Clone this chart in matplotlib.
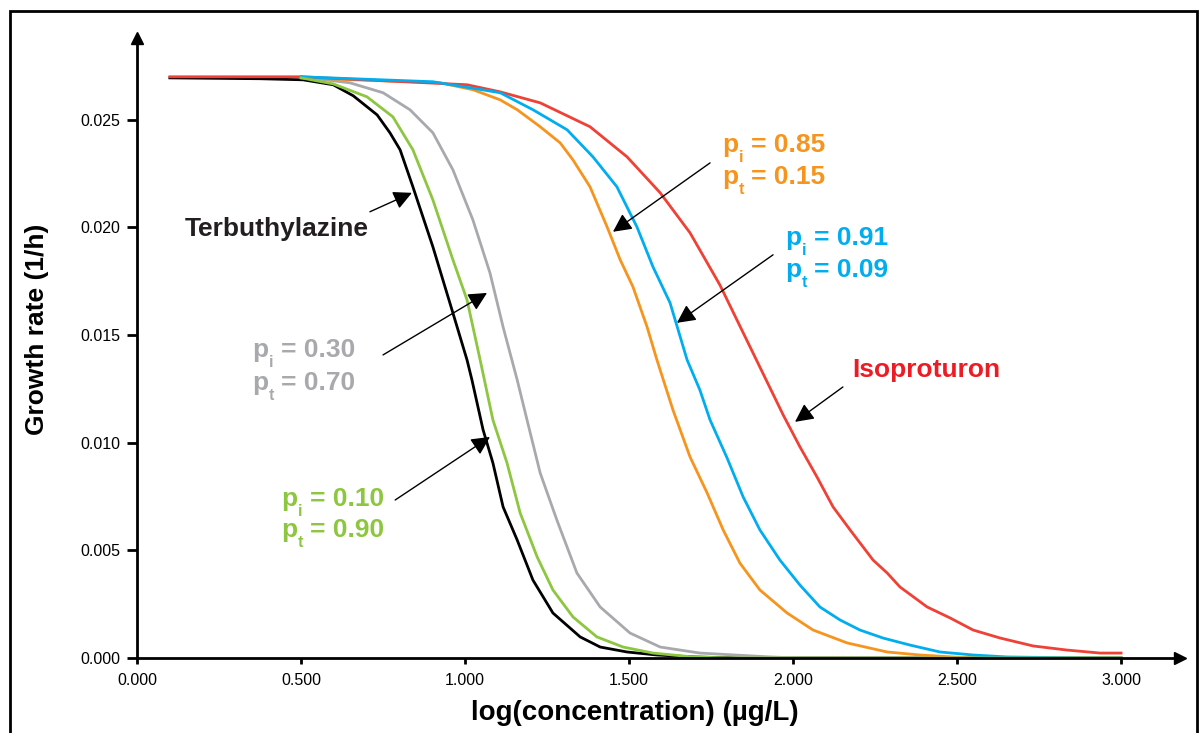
import matplotlib
matplotlib.use("Agg")
import matplotlib.pyplot as plt
from matplotlib.patches import Rectangle

plt.rcParams['font.family'] = ['Liberation Sans', 'DejaVu Sans']

# growth rate vs log concentration, single herbicides and mixtures
terb_x = [0.10, 0.375, 0.506, 0.598, 0.659, 0.732, 0.771, 0.802, 0.841, 0.902, 0.963, 1.006, 1.021,
          1.055, 1.085, 1.116, 1.159, 1.207, 1.268, 1.351, 1.412, 1.494, 1.585, 1.695, 1.84, 3.0]
terb_y = [0.02695, 0.02691, 0.02686, 0.02663, 0.02612, 0.02523, 0.02440, 0.02361, 0.02189, 0.01910,
          0.01603, 0.01385, 0.01292, 0.01060, 0.00906, 0.00702, 0.00548, 0.00362, 0.00209, 0.00098,
          0.00051, 0.00028, 0.00014, 0.00005, 0.0, 0.0]

mix10_x = [0.50, 0.598, 0.701, 0.780, 0.841, 0.902, 0.963, 1.006, 1.046, 1.085, 1.128, 1.168, 1.220,
           1.268, 1.329, 1.402, 1.482, 1.573, 1.695, 1.808, 3.0]
mix10_y = [0.02695, 0.02667, 0.02607, 0.02514, 0.02361, 0.02128, 0.01850, 0.01664, 0.01385, 0.01106,
           0.00906, 0.00674, 0.00469, 0.00316, 0.00191, 0.00098, 0.00051, 0.00023, 0.00005, 0.0, 0.0]

mix30_x = [0.50, 0.649, 0.750, 0.832, 0.902, 0.963, 1.024, 1.076, 1.116, 1.159, 1.189, 1.229, 1.280,
           1.341, 1.412, 1.503, 1.595, 1.716, 1.930, 2.02, 3.0]
mix30_y = [0.02700, 0.02672, 0.02626, 0.02547, 0.02440, 0.02268, 0.02035, 0.01789, 0.01538, 0.01292,
           0.01106, 0.00860, 0.00641, 0.00395, 0.00237, 0.00116, 0.00051, 0.00023, 0.00005, 0.0, 0.0]

mix85_x = [0.50, 0.924, 1.024, 1.107, 1.159, 1.229, 1.290, 1.329, 1.381, 1.433, 1.473, 1.512, 1.555,
           1.585, 1.634, 1.686, 1.738, 1.787, 1.838, 1.899, 1.982, 2.061, 2.165, 2.287, 2.387, 2.54, 3.0]
mix85_y = [0.02695, 0.02672, 0.02640, 0.02593, 0.02547, 0.02468, 0.02393, 0.02314, 0.02189, 0.02003,
           0.01850, 0.01724, 0.01538, 0.01385, 0.01152, 0.00934, 0.00767, 0.00595, 0.00441, 0.00316,
           0.00209, 0.00130, 0.00070, 0.00028, 0.00014, 0.0, 0.0]

mix91_x = [0.50, 0.902, 1.107, 1.207, 1.311, 1.390, 1.463, 1.524, 1.573, 1.625, 1.677, 1.716, 1.747,
           1.799, 1.848, 1.899, 1.960, 2.021, 2.082, 2.143, 2.204, 2.274, 2.357, 2.448, 2.549, 2.652,
           2.884, 3.0]
mix91_y = [0.02700, 0.02677, 0.02626, 0.02547, 0.02454, 0.02328, 0.02189, 0.02003, 0.01817, 0.01650,
           0.01385, 0.01245, 0.01106, 0.00929, 0.00748, 0.00595, 0.00455, 0.00339, 0.00237, 0.00177,
           0.00130, 0.00093, 0.00060, 0.00028, 0.00014, 0.00005, 0.0, 0.0]

iso_x = [0.10, 0.50, 1.006, 1.107, 1.229, 1.381, 1.494, 1.595, 1.686, 1.777, 1.878, 1.970, 2.021, 2.073,
         2.122, 2.174, 2.244, 2.287, 2.326, 2.409, 2.479, 2.549, 2.631, 2.732, 2.835, 2.936, 3.0]
iso_y = [0.02700, 0.02700, 0.02663, 0.02630, 0.02579, 0.02468, 0.02328, 0.02161, 0.01975, 0.01733,
         0.01417, 0.01129, 0.00981, 0.00841, 0.00702, 0.00595, 0.00455, 0.00395, 0.00330, 0.00237,
         0.00186, 0.00130, 0.00093, 0.00056, 0.00037, 0.00023, 0.00023]

x_ticks = [0.0, 0.5, 1.0, 1.5, 2.0, 2.5, 3.0]
y_ticks = [0.0, 0.005, 0.010, 0.015, 0.020, 0.025]

BLACK = '#000000'
GREEN = '#8DC63F'
GRAY = '#A7A9AC'
ORANGE = '#F7941D'
BLUE = '#00AEEF'
RED = '#EF4136'

FS = 19

fig = plt.figure(figsize=(12, 7.33), dpi=100)
ax = fig.add_axes([0.1142, 0.1023, 0.8692, 0.8458])

ax.plot(terb_x, terb_y, color=BLACK, lw=2)
ax.plot(mix30_x, mix30_y, color=GRAY, lw=2)
ax.plot(mix85_x, mix85_y, color=ORANGE, lw=2)
ax.plot(iso_x, iso_y, color=RED, lw=2)
ax.plot(mix91_x, mix91_y, color=BLUE, lw=2)
ax.plot(mix10_x, mix10_y, color=GREEN, lw=2)

ax.set_xlim(0, 3.18)
ax.set_ylim(0, 0.0288)
ax.set_xticks(x_ticks)
ax.set_xticklabels([f"{v:.3f}" for v in x_ticks])
ax.set_yticks(y_ticks)
ax.set_yticklabels([f"{v:.3f}" for v in y_ticks])
ax.tick_params(axis='both', direction='out', width=2, labelsize=11.5)
ax.tick_params(axis='y', length=7, pad=5)
ax.tick_params(axis='x', length=4, pad=7)

for s in ['top', 'right']:
    ax.spines[s].set_visible(False)
for s in ['left', 'bottom']:
    ax.spines[s].set_linewidth(2)
# arrow heads at the axis ends
ax.plot(1, 0, '>k', ms=8, transform=ax.get_yaxis_transform(), clip_on=False)
ax.plot(0, 1, '^k', ms=8, transform=ax.get_xaxis_transform(), clip_on=False)

ax.set_xlabel('log(concentration) (µg/L)', fontsize=20, fontweight='bold', va='center')
ax.set_ylabel('Growth rate (1/h)', fontsize=FS, fontweight='bold', va='center')
ax.xaxis.set_label_coords(0.477, -0.088)
ax.yaxis.set_label_coords(-0.096, 0.53)

arrow = dict(arrowstyle='-|>', color='black', lw=1, mutation_scale=28, shrinkA=0, shrinkB=0)


def p_label(x, y, sub, value, color):
    # "p" + small lowered subscript + " = value", anchored at the baseline
    kw = dict(xycoords='data', textcoords='offset points', fontweight='bold',
              ha='left', va='baseline', color=color)
    ax.annotate('p', (x, y), xytext=(0, 0), fontsize=FS, **kw)
    ax.annotate(sub, (x, y), xytext=(11.8, -7), fontsize=11.5, **kw)
    ax.annotate('= ' + value, (x, y), xytext=(21, 0), fontsize=FS, **kw)


def p_pair(x, y1, y2, pi, pt, color):
    p_label(x, y1, 'i', pi, color)
    p_label(x, y2, 't', pt, color)


ax.text(0.146, 0.01994, 'Terbuthylazine', color='#231F20', fontsize=FS, fontweight='bold',
        va='center', ha='left')
ax.annotate('', xy=(0.838, 0.02161), xytext=(0.710, 0.02073), arrowprops=arrow)

p_pair(0.351, 0.01397, 0.01243, '0.30', '0.70', GRAY)
ax.annotate('', xy=(1.067, 0.01696), xytext=(0.750, 0.01408), arrowprops=arrow)

p_pair(0.439, 0.00704, 0.00560, '0.10', '0.90', GREEN)
ax.annotate('', xy=(1.076, 0.01027), xytext=(0.787, 0.00734), arrowprops=arrow)

p_pair(1.784, 0.02349, 0.02201, '0.85', '0.15', ORANGE)
ax.annotate('', xy=(1.451, 0.0198), xytext=(1.747, 0.0230), arrowprops=arrow)

p_pair(1.976, 0.01917, 0.01768, '0.91', '0.09', BLUE)
ax.annotate('', xy=(1.646, 0.01557), xytext=(1.939, 0.01873), arrowprops=arrow)

ax.text(2.180, 0.01338, 'Isoproturon', color='#ED1C24', fontsize=FS, fontweight='bold',
        va='center', ha='left')
ax.annotate('', xy=(2.006, 0.01097), xytext=(2.152, 0.01259), arrowprops=arrow)

# outer frame around the whole chart
fig.add_artist(Rectangle((10 / 1200, -0.05), 1187 / 1200, 1.05 - 11 / 733,
                         transform=fig.transFigure, fill=False, lw=2, ec='black'))

fig.savefig('out.png', dpi=100)
